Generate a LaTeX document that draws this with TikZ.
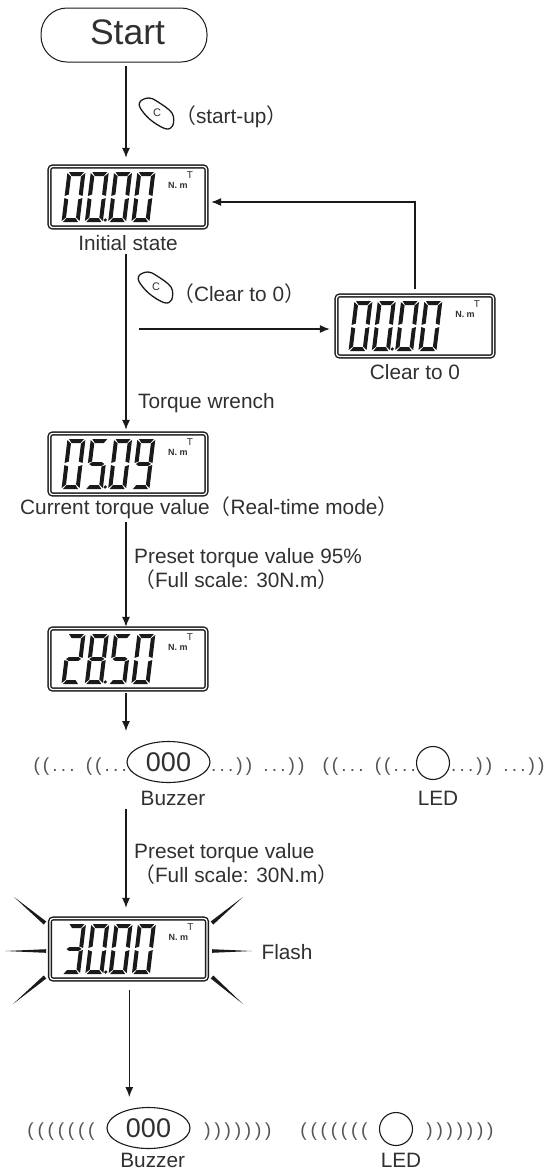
\documentclass[tikz,border=0pt]{standalone}
\usepackage{fontspec}
\setmainfont{Liberation Sans}
\newfontfamily\cjk{Noto Sans CJK SC}
\newfontfamily\wavefont[LetterSpace=16.5]{Liberation Sans}
\newfontfamily\widewavefont[LetterSpace=20]{Liberation Sans}
\usetikzlibrary{arrows.meta,shapes.geometric}
\definecolor{lcdink}{HTML}{1A1A1A}
\definecolor{labelink}{HTML}{303030}
\definecolor{waveink}{HTML}{555555}
\newcommand{\fwl}{{\cjk （}}
\newcommand{\fwr}{{\cjk ）}}
% segments of one digit, y runs down the page
\newcommand{\lcdsega}{\fill (1.5,-25) -- (16.5,-25) -- (13.5,-21) -- (4.5,-21) -- cycle;}
\newcommand{\lcdsegb}{\fill (18,-24) -- (18,-1) -- (14,-2.5) -- (14,-20.5) -- cycle;}
\newcommand{\lcdsegc}{\fill (18,24) -- (18,1) -- (14,2.5) -- (14,20.5) -- cycle;}
\newcommand{\lcdsegd}{\fill (1.5,25) -- (16.5,25) -- (13.5,21) -- (4.5,21) -- cycle;}
\newcommand{\lcdsege}{\fill (0,24) -- (0,1) -- (4,2.5) -- (4,20.5) -- cycle;}
\newcommand{\lcdsegf}{\fill (0,-24) -- (0,-1) -- (4,-2.5) -- (4,-20.5) -- cycle;}
\newcommand{\lcdsegg}{\fill (1.5,0) -- (4,-1.8) -- (14,-1.8) -- (16.5,0) -- (14,1.8) -- (4,1.8) -- cycle;}
\newcommand{\lcdsetzero}{a,b,c,d,e,f}
\newcommand{\lcdsettwo}{a,b,g,e,d}
\newcommand{\lcdsetthree}{a,b,g,c,d}
\newcommand{\lcdsetfive}{a,f,g,c,d}
\newcommand{\lcdseteight}{a,b,c,d,e,f,g}
\newcommand{\lcdsetnine}{a,b,c,d,f,g}
% four digits, the point and the unit, on a display node
\newcommand{\lcdreading}[5]{%
  \begin{scope}[shift={(#1)},xslant=0.12,lcdink]
    \foreach \pos/\dig in {-63.5/#2,-40.2/#3,-16.9/#4,6.4/#5}{
      \expandafter\let\expandafter\lcdlist\csname lcdset\dig\endcsname
      \begin{scope}[shift={(\pos,0)}]
        \foreach \s in \lcdlist{\csname lcdseg\s\endcsname}
      \end{scope}
    }
    \fill (-20,23) circle (1.8);
  \end{scope}
  \node[unittext,font=\fontsize{9}{9}\bfseries\selectfont] (#1unit) at ([xshift=50pt,yshift=12pt]#1) {N. m};
  \node[unittext,font=\fontsize{10}{10}\selectfont] (#1torque) at ([xshift=62pt,yshift=22pt]#1) {T};
}
\tikzset{
  startbox/.style={draw=lcdink,line width=1pt,rounded corners=26pt,minimum width=166pt,minimum height=54pt,inner sep=0pt,font=\fontsize{35.5}{36}\selectfont,text=labelink,text depth=6pt},
  lcdbox/.style={draw=lcdink,line width=1.4pt,double=white,double distance=1.3pt,rounded corners=3pt,minimum width=157pt,minimum height=61pt,inner sep=0pt},
  unittext/.style={inner sep=0pt,text=labelink},
  caption/.style={inner sep=0pt,text=labelink,font=\fontsize{20.8}{21}\selectfont},
  note/.style={caption,anchor=west,align=left},
  flow/.style={draw=lcdink,line width=1.1pt,-{Latex[length=10pt,width=8pt]}},
  buzzerbox/.style={draw=lcdink,line width=1.1pt,ellipse,minimum width=83pt,minimum height=41pt,inner sep=0pt,text=labelink,font=\fontsize{27}{27}\selectfont},
  ledbox/.style={draw=lcdink,line width=1.1pt,circle,minimum size=33pt,inner sep=0pt},
  wave/.style={inner sep=0pt,text=waveink,font=\fontsize{19}{19}\wavefont},
  widewave/.style={inner sep=0pt,text=waveink,font=\fontsize{19}{19}\widewavefont},
  keycap/.pic={
    \draw[lcdink,line width=1.3pt] plot[smooth cycle,tension=0.6] coordinates {(-15.7,-11.7) (-7.3,-15) (1,-11.7) (16,0) (16.7,12.7) (9.3,15.7) (-5.7,6.7) (-15.7,-5)};
    \node[inner sep=0pt,text=labelink,font=\fontsize{11}{11}\selectfont] (-letter) at (1,0) {C};
  }
}
\begin{document}
\begin{tikzpicture}[x=1pt,y=-1pt]
  \useasboundingbox (0,0) rectangle (551,1171);
  \node[startbox] (start) at (124,35) {\hspace*{7pt}Start};
  %
  \node[lcdbox] (initial) at (128,197) {};   % displays
  \node[lcdbox] (clear) at (415,326) {};
  \node[lcdbox] (current) at (128,464) {};
  \node[lcdbox] (preset) at (128,659) {};
  \node[lcdbox] (full) at (128.5,949) {};
  \lcdreading{initial}{zero}{zero}{zero}{zero}
  \lcdreading{clear}{zero}{zero}{zero}{zero}
  \lcdreading{current}{zero}{five}{zero}{nine}
  \lcdreading{preset}{two}{eight}{five}{zero}
  \lcdreading{full}{three}{zero}{zero}{zero}
  %
  \node[caption] (initiallabel) at (128,243) {Initial state};   % captions
  \node[caption] (clearlabel) at (415,372) {Clear to 0};
  \node[caption,anchor=west] (currentlabel) at (20,508) {Current torque value\fwl Real-time mode\fwr};
  \node[caption] (flashlabel) at (287,952) {Flash};
  %
  \pic (startkey) at (156,113) {keycap};
  \pic (clearkey) at (155,287) {keycap};
  \node[note] (startnote) at (175,117) {\fwl start-up\fwr};
  \node[note] (clearnote) at (173,294) {\fwl Clear to 0\fwr};
  \node[note] (wrenchnote) at (138,403) {Torque wrench};
  \node[note] (nearnote) at (134,569) {Preset torque value 95\%\\[0pt]\fwl Full scale: 30N.m\fwr};
  \node[note] (fullnote) at (134,864) {Preset torque value\\[0pt]\fwl Full scale: 30N.m\fwr};
  %
  \node[buzzerbox] (nearbuzzer) at (168.5,762) {000};   % first alarm
  \node[ledbox] (nearled) at (433,763) {};
  \node[caption] (nearbuzzerlabel) at (173,798) {Buzzer};
  \node[caption] (nearledlabel) at (438,798) {LED};
  \node[wave,anchor=east] (nearwavea) at (127,767) {((... ((...};
  \node[wave,anchor=west] (nearwaveb) at (211,767) {...)) ...))};
  \node[wave,anchor=east] (nearwavec) at (416,767) {((... ((...};
  \node[wave,anchor=west] (nearwaved) at (451,767) {...)) ...))};
  %
  \node[buzzerbox] (fullbuzzer) at (148.5,1128) {000};   % second alarm
  \node[ledbox] (fullled) at (396,1129) {};
  \node[caption] (fullbuzzerlabel) at (152.7,1160) {Buzzer};
  \node[caption] (fullledlabel) at (401,1160) {LED};
  \node[widewave] (fullwavea) at (61,1132) {(((((((};
  \node[widewave] (fullwaveb) at (238,1132) {)))))))};
  \node[widewave] (fullwavec) at (334,1132) {(((((((};
  \node[widewave] (fullwaved) at (460,1132) {)))))))};
  %
  \coordinate (branch) at (139,329);
  \coordinate (spine) at (126,0);
  \coordinate (nearalarm) at (126,731);
  \coordinate (fullalarm) at (129.3,1097);
  %
  \draw[flow,shorten <=3pt,shorten >=8pt] (start.south -| spine) -- (initial.north -| spine);
  \draw[flow,shorten <=3pt,shorten >=3pt] (initiallabel.south -| spine) -- (current.north -| spine);
  \draw[flow,shorten >=6pt] (branch) -- (branch -| clear.west);
  \draw[flow,shorten <=6pt,shorten >=4pt] (clear.north) |- ([yshift=-5pt]initial.east);
  \draw[flow,shorten <=3pt,shorten >=1pt] (currentlabel.south -| spine) -- (preset.north -| spine);
  \draw[flow,shorten <=3pt] (preset.south -| spine) -- (nearalarm);
  \draw[flow,shorten <=4pt,shorten >=10pt] (nearbuzzerlabel.south -| spine) -- (full.north -| spine);
  \draw[flow,shorten <=10pt] (full.south -| fullalarm) -- (fullalarm);
  %
  \foreach \ax/\ay/\bx/\by/\dx/\dy in {45/923/14/897/1.3/-1.5,212/923/243/897/1.3/1.5,46/951/5/951/0/1.8,212/951/252/951/0/1.8,45/977/13/1004/1.3/1.5,212/977/243/1004/1.3/-1.5}{
    \fill[lcdink] (\ax+\dx,\ay+\dy) -- (\bx,\by) -- (\ax-\dx,\ay-\dy) -- cycle;   % flash rays
  }
\end{tikzpicture}
\end{document}
